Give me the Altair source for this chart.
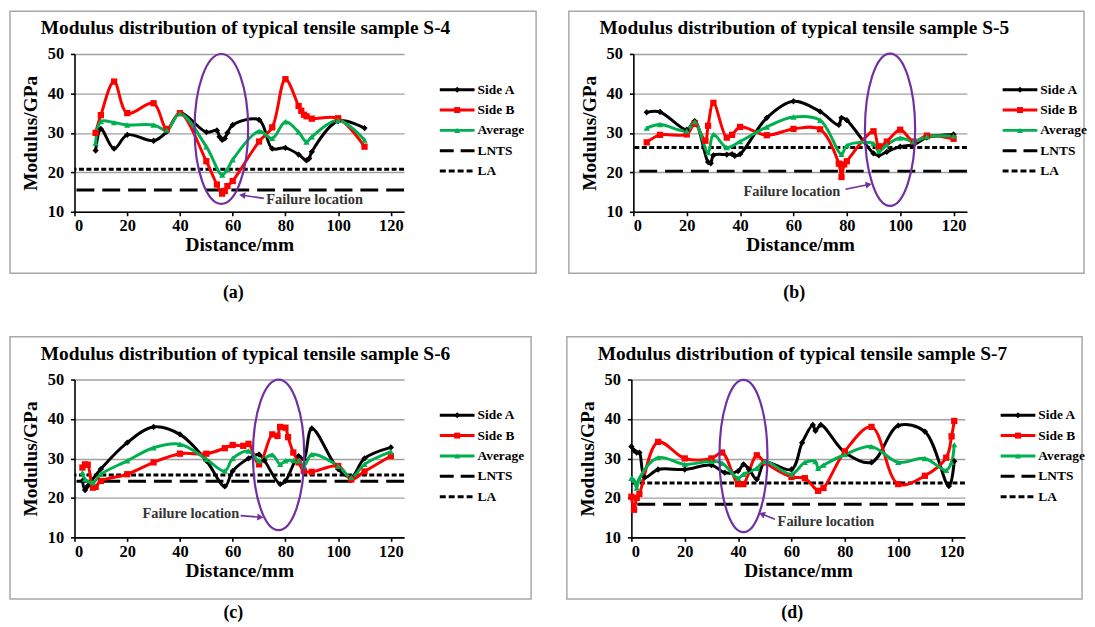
import math
import altair as alt
import pandas as pd

SERIF = "Liberation Serif"
SERIES = ["Side A", "Side B", "Average", "LNTS", "LA"]
COLORS = ["#000000", "#FF0000", "#00B050", "#000000", "#000000"]
PURPLE = "#7030A0"

titles = [
    "Modulus distribution of typical tensile sample S-4",
    "Modulus distribution of typical tensile sample S-5",
    "Modulus distribution of typical tensile sample S-6",
    "Modulus distribution of typical tensile sample S-7",
]
captions = ["(a)", "(b)", "(c)", "(d)"]
x_ticks = [0, 20, 40, 60, 80, 100, 120]
y_ticks = [10, 20, 30, 40, 50]
annotation = "Failure location"

# ---------------- S-4 ----------------
s4_a_x = [8, 10, 15, 20, 30, 35, 40, 50, 54, 55, 56, 57, 58, 60, 70, 75, 80, 85, 88, 89, 90, 100, 110]
s4_a_y = [25.5, 31, 26, 29.5, 28, 30.3, 35, 30.2, 30.6, 29, 28.2, 28.6, 30, 32, 33.3, 26, 26.2, 24.5, 23, 23.5, 25.2, 33, 31.2]
s4_b_x = [8, 10, 15, 20, 30, 35, 40, 50, 54, 56, 57, 58, 60, 70, 75, 80, 85, 86, 87, 88, 90, 100, 110]
s4_b_y = [30, 34.5, 43, 35, 37.5, 31, 35, 22.8, 16.9, 14.6, 15.3, 16.5, 17.8, 27.8, 31.4, 43.6, 36.8, 35.6, 34.6, 34.2, 33.6, 33.7, 26.5]
s4_g_x = [8, 10, 15, 20, 30, 35, 40, 50, 56, 58, 60, 70, 75, 80, 85, 88, 90, 100, 110]
s4_g_y = [27.4, 32.9, 32.6, 32, 32, 30.7, 34.9, 26.5, 19.3, 20.8, 23.2, 30.4, 28.6, 32.8, 30.2, 27.7, 29, 33.2, 28.2]

# ---------------- S-5 ----------------
s5_a_x = [5, 10, 20, 23, 28, 29, 30, 35, 37, 38, 40, 50, 60, 70, 77, 78, 80, 90, 92, 95, 100, 105, 110, 120]
s5_a_y = [35.2, 35.3, 30.8, 33, 22.6, 22.3, 24.3, 24.5, 24.6, 24.2, 24.6, 33.8, 38, 35.4, 32, 33.8, 33.2, 24.8, 24.3, 25.2, 26.5, 27, 28.8, 29.6]
s5_b_x = [5, 10, 20, 23, 27, 28, 30, 35, 37, 40, 50, 60, 70, 77, 78, 79, 80, 90, 92, 95, 100, 105, 110, 120]
s5_b_y = [27.6, 29.5, 29.6, 32.3, 28, 31.8, 37.6, 28.8, 29.5, 31.5, 29.4, 31, 30.9, 22.2, 18.8, 22, 22.8, 30.4, 26.6, 27.8, 30.8, 27.8, 29.3, 28.5]
s5_g_x = [5, 10, 20, 23, 28, 30, 35, 40, 50, 60, 70, 78, 80, 90, 92, 95, 100, 105, 110, 120]
s5_g_y = [31.2, 32.1, 30.5, 32.8, 25, 29.6, 26.3, 27.8, 31.5, 34, 33.2, 24.6, 26.8, 27.3, 25.3, 27, 28.7, 27.8, 29, 29.2]

# ---------------- S-6 ----------------
s6_a_x = [3, 4, 5, 10, 20, 30, 40, 50, 57, 60, 66, 70, 72, 78, 80, 85, 87, 90, 100, 105, 110, 120]
s6_a_y = [24.3, 22, 23, 27.3, 34, 38, 36.1, 29.4, 22.9, 26.8, 30, 31, 29.5, 23.5, 24.3, 30.6, 29.8, 37.6, 27.3, 25.3, 30, 32.8]
s6_b_x = [3, 4, 5, 7, 8, 10, 20, 30, 40, 50, 57, 60, 64, 66, 70, 75, 77, 78, 80, 81, 83, 85, 87, 90, 100, 105, 110, 120]
s6_b_y = [27.7, 28.5, 28.4, 22.6, 22.8, 24.3, 26, 29, 31.2, 31.2, 32.6, 33.4, 33.2, 33.7, 28.5, 36.1, 35.7, 38, 37.8, 35.4, 31.5, 29, 26.8, 26.6, 28.1, 24.7, 26.7, 30.6]
s6_g_x = [3, 4, 7, 10, 20, 30, 40, 50, 57, 60, 66, 70, 75, 78, 80, 83, 85, 87, 90, 100, 105, 110, 120]
s6_g_y = [26.4, 24.7, 23.9, 26, 29.4, 32.7, 33.6, 29.8, 26.8, 30, 31.9, 29.4, 30.9, 28.5, 29.4, 29.5, 29.4, 28.1, 31, 28.1, 25.2, 28.5, 31.7]

# ---------------- S-7 ----------------
s7_a_x = [0, 1, 2, 3, 5, 10, 20, 30, 35, 40, 42, 44, 47, 50, 60, 64, 68, 69, 71, 80, 90, 100, 110, 119, 121]
s7_a_y = [33, 32, 31.5, 31.5, 25.2, 27.2, 27.2, 28.3, 26.4, 26.8, 28.5, 27.3, 24.7, 29, 27.2, 34, 38.5, 37, 38.5, 31.5, 29, 38.3, 36.8, 23, 29.3]
s7_b_x = [0, 1, 2, 3, 10, 20, 30, 34, 40, 42, 47, 50, 60, 65, 70, 72, 80, 90, 100, 110, 118, 120, 121]
s7_b_y = [20.3, 17, 20, 21, 34.2, 30, 30, 31.5, 23.5, 23.5, 30.8, 29, 25.3, 25, 21.8, 22.5, 31.8, 38, 23.5, 25.6, 30.2, 35.6, 39.5]
s7_g_x = [0, 1, 2, 3, 10, 20, 30, 34, 40, 42, 47, 50, 60, 65, 69, 70, 72, 80, 90, 100, 110, 118, 120, 121]
s7_g_y = [25, 24.5, 22.5, 25, 30.2, 28.5, 29.3, 28.8, 25, 26, 27.5, 29.3, 26, 29, 29.2, 27.5, 28.3, 31, 33, 29, 30, 27, 29, 33.5]

# reference levels and annotation anchors (data units)
lnts_levels = [15.5, 20.3, 24.2, 18.4]
la_levels = [20.8, 26.3, 25.8, 23.8]
ellipse_x = [55.7, 96.2, 77.4, 42.0]
ellipse_y = [31.0, 30.8, 30.9, 30.6]
label_x = [72.7, 41.3, 25.8, 54.8]
label_y = [12.9, 15.0, 15.9, 14.0]
arrow_tail_x = [71.8, 79.5, 63.0, 53.8]
arrow_tail_y = [13.4, 15.7, 15.5, 14.6]
arrow_head_x = [63.6, 88.2, 70.5, 48.9]
arrow_head_y = [14.2, 16.9, 15.1, 15.9]

series_data = [
    [(s4_a_x, s4_a_y), (s4_b_x, s4_b_y), (s4_g_x, s4_g_y)],
    [(s5_a_x, s5_a_y), (s5_b_x, s5_b_y), (s5_g_x, s5_g_y)],
    [(s6_a_x, s6_a_y), (s6_b_x, s6_b_y), (s6_g_x, s6_g_y)],
    [(s7_a_x, s7_a_y), (s7_b_x, s7_b_y), (s7_g_x, s7_g_y)],
]

# ---------------- layout / style ----------------
PANEL_W = [332, 336, 332, 336]
H = 159
FRAME_RIGHT = [133, 118, 128, 118]
CAPTION_DY = [82, 82, 76, 76]
ELLIPSE_HALF = [(27, 75.5), (25.3, 76.7), (25.8, 75.8), (24.2, 76.7)]
XMAX = 125
YMIN, YMAX = 10, 50
LEG_FIRST, LEG_STEP = 36, 20.5

COLOR = alt.Color("series:N", scale=alt.Scale(domain=SERIES, range=COLORS), legend=None)
SHAPE = alt.Shape("series:N", scale=alt.Scale(domain=SERIES[:3], range=["diamond", "square", "triangle-up"]), legend=None)
DASH = alt.StrokeDash("series:N", scale=alt.Scale(domain=SERIES, range=[[1, 0], [1, 0], [1, 0], [14, 7], [6, 3]]), legend=None)


def X():
    return alt.X("x:Q", scale=alt.Scale(domain=[0, XMAX], nice=False, zero=False),
                 axis=alt.Axis(values=x_ticks, title="Distance/mm", grid=False, labelPadding=2, titlePadding=2))


def Y():
    return alt.Y("y:Q", scale=alt.Scale(domain=[YMIN, YMAX], nice=False, zero=False),
                 axis=alt.Axis(values=y_ticks, title="Modulus/GPa", grid=True, labelPadding=7, titlePadding=7))


def ellipse_path(a):
    k = 0.5523
    return (f"M0,-1 C{k*a:.4f},-1 {a:.4f},{-k:.4f} {a:.4f},0 "
            f"C{a:.4f},{k:.4f} {k*a:.4f},1 0,1 "
            f"C{-k*a:.4f},1 {-a:.4f},{k:.4f} {-a:.4f},0 "
            f"C{-a:.4f},{-k:.4f} {-k*a:.4f},-1 0,-1 Z")


def make_panel(i):
    W = PANEL_W[i]
    rows = []
    for name, (xs, ys) in zip(SERIES[:3], series_data[i]):
        for xv, yv in zip(xs, ys):
            rows.append({"series": name, "x": xv, "y": yv})
    df = pd.DataFrame(rows)
    one = pd.DataFrame({"k": [0]})

    frame = alt.Chart(one).mark_rect(fill="transparent", stroke="#a8a8a8", strokeWidth=1.5).encode(
        x=alt.value(-65), x2=alt.value(W + FRAME_RIGHT[i]), y=alt.value(-43), y2=alt.value(H + 62))
    title = alt.Chart(one).mark_text(text=titles[i], align="left", baseline="middle", font=SERIF,
                                     fontSize=19.5, fontWeight="bold", color="black").encode(
        x=alt.value(-34), y=alt.value(-26))
    caption = alt.Chart(one).mark_text(text=captions[i], align="center", baseline="middle", font=SERIF,
                                       fontSize=18, fontWeight="bold", color="black").encode(
        x=alt.value(W / 2 - 6), y=alt.value(H + CAPTION_DY[i]))

    lnts = alt.Chart(pd.DataFrame({"y": [lnts_levels[i]]})).mark_rule(
        color="black", strokeWidth=3, strokeDash=[18, 8]).encode(y=Y())
    la = alt.Chart(pd.DataFrame({"y": [la_levels[i]]})).mark_rule(
        color="black", strokeWidth=3, strokeDash=[5, 2.5]).encode(y=Y())

    lines = alt.Chart(df).mark_line(interpolate="catmull-rom", strokeWidth=3).encode(
        x=X(), y=Y(), color=COLOR)
    pts = alt.Chart(df).mark_point(filled=True, size=40, opacity=1).encode(
        x=X(), y=Y(), color=COLOR, shape=SHAPE)

    hw, hh = ELLIPSE_HALF[i]
    ell = alt.Chart(pd.DataFrame({"x": [ellipse_x[i]], "y": [ellipse_y[i]]})).mark_point(
        shape=ellipse_path(hw / hh), size=(2 * hh) ** 2, filled=False, color=PURPLE,
        strokeWidth=2.2, opacity=1).encode(x=X(), y=Y())

    arrow_df = pd.DataFrame({"x": [arrow_tail_x[i], arrow_head_x[i]],
                             "y": [arrow_tail_y[i], arrow_head_y[i]]})
    arrow_line = alt.Chart(arrow_df).mark_line(color=PURPLE, strokeWidth=1.6).encode(x=X(), y=Y())
    dx = (arrow_head_x[i] - arrow_tail_x[i]) * W / XMAX
    dy = -(arrow_head_y[i] - arrow_tail_y[i]) * H / (YMAX - YMIN)
    ang = math.degrees(math.atan2(dx, -dy)) % 360
    head = alt.Chart(pd.DataFrame({"x": [arrow_head_x[i]], "y": [arrow_head_y[i]]})).mark_point(
        shape="triangle-up", size=50, filled=True, color=PURPLE, opacity=1, angle=ang).encode(x=X(), y=Y())
    label = alt.Chart(pd.DataFrame({"x": [label_x[i]], "y": [label_y[i]]})).mark_text(
        text=annotation, align="left", baseline="middle", font=SERIF, fontSize=14.5,
        fontWeight="bold", color="#333333").encode(x=X(), y=Y())

    main = alt.layer(frame, title, caption, lnts, la, lines, pts, ell, arrow_line, head, label)

    leg_df = pd.DataFrame({"series": SERIES})
    r0 = LEG_FIRST - LEG_STEP / 2
    r1 = r0 + LEG_STEP * len(SERIES)
    LY = alt.Y("series:N", scale=alt.Scale(domain=SERIES, range=[r0, r1], padding=0), axis=None)
    leg_rules = alt.Chart(leg_df).mark_rule(strokeWidth=3).encode(
        x=alt.value(W + 36), x2=alt.value(W + 71), y=LY, color=COLOR, strokeDash=DASH)
    leg_pts = alt.Chart(leg_df).transform_filter(
        alt.FieldOneOfPredicate(field="series", oneOf=SERIES[:3])).mark_point(
        filled=True, size=36, opacity=1).encode(x=alt.value(W + 53.5), y=LY, color=COLOR, shape=SHAPE)
    leg_txt = alt.Chart(leg_df).mark_text(align="left", baseline="middle", font=SERIF, fontSize=13.5,
                                          fontWeight="bold", color="black").encode(
        x=alt.value(W + 74), y=LY, text="series:N")
    legend = alt.layer(leg_rules, leg_pts, leg_txt)

    return alt.layer(main, legend).resolve_scale(y="independent").properties(width=W, height=H)


top = alt.hconcat(make_panel(0), make_panel(1), spacing=31)
bottom = alt.hconcat(make_panel(2), make_panel(3), spacing=34)
chart = alt.vconcat(top, bottom, spacing=34).properties(
    padding={"left": 1, "top": 0, "right": 0, "bottom": 0}, background="white"
).configure_view(strokeWidth=0).configure_axis(
    labelFont=SERIF, labelFontWeight="bold", labelFontSize=16.5, labelColor="black",
    titleFont=SERIF, titleFontWeight="bold", titleFontSize=19.5, titleColor="black",
    domainColor="black", domainWidth=1.6, tickColor="black", tickWidth=1.6, tickSize=4,
    gridColor="#a0a0a0", gridWidth=1.4,
)

chart.save("out.html", embed_options={"renderer": "svg", "actions": False})
